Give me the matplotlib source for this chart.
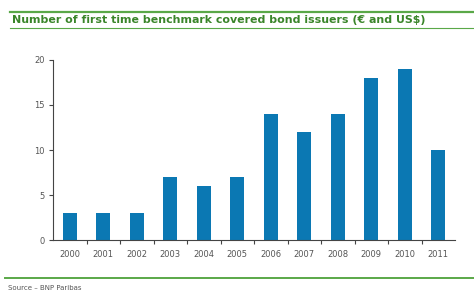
import matplotlib.pyplot as plt
from matplotlib.lines import Line2D

years = ['2000', '2001', '2002', '2003', '2004', '2005',
         '2006', '2007', '2008', '2009', '2010', '2011']
issuers = [3, 3, 3, 7, 6, 7, 14, 12, 14, 18, 19, 10]

bar_color = '#0b78b3'
green = '#5aa848'
text_grey = '#555555'

fig = plt.figure(figsize=(4.74, 2.91), dpi=100)
ax = fig.add_axes([0.112, 0.175, 0.848, 0.619])

x = range(len(years))
ax.bar(x, issuers, width=0.42, color=bar_color, zorder=2)

ax.set_xlim(-0.5, len(years) - 0.5)
ax.set_ylim(0, 20)
ax.set_yticks([0, 5, 10, 15, 20])
ax.set_xticks(x)
ax.set_xticklabels(years)
ax.set_xticks([i + 0.5 for i in range(len(years) - 1)], minor=True)

for s in ['top', 'right']:
    ax.spines[s].set_visible(False)
for s in ['left', 'bottom']:
    ax.spines[s].set_color('#444444')
    ax.spines[s].set_linewidth(0.8)

ax.tick_params(axis='y', length=3, width=0.8, color='#444444', labelsize=6,
               labelcolor=text_grey, pad=3)
ax.tick_params(axis='x', which='major', length=0, labelsize=6,
               labelcolor=text_grey, pad=7)
ax.tick_params(axis='x', which='minor', length=3, width=0.8, color='#444444')

# ------------- Header / footer ------------- #
fig.add_artist(Line2D([10 / 474, 1], [1 - 12 / 291] * 2, color=green, lw=1.6))
fig.add_artist(Line2D([10 / 474, 1], [1 - 28 / 291] * 2, color=green, lw=0.8))
fig.text(12 / 474, 1 - 20 / 291, 'Number of first time benchmark covered bond issuers (\u20ac and US$)',
         color='#3a852a', fontsize=7.9, fontweight='bold', va='center', ha='left')
fig.add_artist(Line2D([5 / 474, 1], [1 - 278 / 291] * 2, color=green, lw=1.4))
fig.text(8 / 474, 1 - 288 / 291, 'Source \u2013 BNP Paribas', color=text_grey,
         fontsize=5, va='center', ha='left')

fig.savefig('out.png', dpi=100)
